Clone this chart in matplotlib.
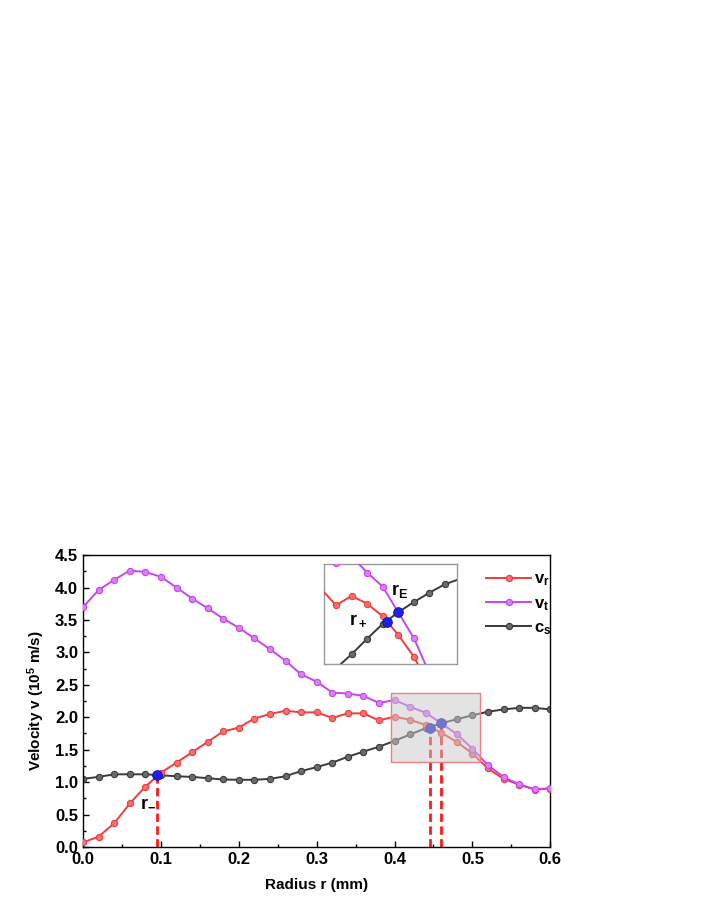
import matplotlib
matplotlib.use('Agg')
import matplotlib.pyplot as plt
from matplotlib.patches import Rectangle
from matplotlib.ticker import MultipleLocator

plt.rcParams['font.family'] = ['Liberation Sans', 'DejaVu Sans']
plt.rcParams['mathtext.default'] = 'regular'

# radius grid (mm)
r = [0.00, 0.02, 0.04, 0.06, 0.08, 0.10, 0.12, 0.14, 0.16, 0.18,
     0.20, 0.22, 0.24, 0.26, 0.28, 0.30, 0.32, 0.34, 0.36, 0.38,
     0.40, 0.42, 0.44, 0.46, 0.48, 0.50, 0.52, 0.54, 0.56, 0.58, 0.60]

# velocities (1e5 m/s)
v_r = [0.07, 0.16, 0.365, 0.67, 0.93, 1.145, 1.30, 1.46, 1.62, 1.78,
       1.84, 1.98, 2.05, 2.10, 2.075, 2.075, 1.99, 2.06, 2.06, 1.95,
       2.01, 1.96, 1.88, 1.76, 1.62, 1.44, 1.21, 1.05, 0.96, 0.885, 0.90]
v_t = [3.70, 3.96, 4.12, 4.26, 4.24, 4.165, 4.00, 3.83, 3.68, 3.52,
       3.38, 3.215, 3.05, 2.87, 2.66, 2.55, 2.38, 2.365, 2.33, 2.22,
       2.265, 2.16, 2.07, 1.905, 1.74, 1.515, 1.26, 1.08, 0.965, 0.89, 0.905]
c_s = [1.05, 1.08, 1.12, 1.12, 1.12, 1.105, 1.09, 1.08, 1.06, 1.04,
       1.035, 1.035, 1.05, 1.09, 1.17, 1.23, 1.30, 1.39, 1.47, 1.545,
       1.635, 1.735, 1.83, 1.905, 1.97, 2.03, 2.085, 2.12, 2.145, 2.145, 2.12]

# sonic points r-, r+, rE
cross_r = [0.0953, 0.445, 0.46]
cross_v = [1.105, 1.84, 1.905]

# zoomed region
box_x = (0.396, 0.510)
box_y = (1.305, 2.38)
inset_x = (0.365, 0.536)
inset_y = (1.573, 2.215)

red = '#f23b3b'
mag = '#c844ee'
blk = '#3a3a3a'
blue = '#1f1fe6'


def draw_curves(a, lw=1.4, ms=4.5):
    a.plot(r, c_s, '-o', color=blk, mfc='#6a6a6a', mec=blk, mew=0.8, lw=lw, ms=ms, label='c$_s$', zorder=2)
    a.plot(r, v_r, '-o', color=red, mfc='#f57070', mec=red, mew=0.8, lw=lw, ms=ms, label='v$_r$', zorder=3)
    a.plot(r, v_t, '-o', color=mag, mfc='#da80f4', mec=mag, mew=0.8, lw=lw, ms=ms, label='v$_t$', zorder=4)


fig = plt.figure(figsize=(7.1, 9.19), dpi=100)
ax = fig.add_axes([0.117, 0.0784, 0.658, 0.3176])

draw_curves(ax)
for x, y in zip(cross_r, cross_v):
    ax.plot([x, x], [0, y], '--', color='#ff1a1a', lw=2, dashes=(3, 1.6), zorder=1)
ax.plot(cross_r, cross_v, 'o', color=blue, ms=7, mec='#1010a0', mew=0.6, ls='none', zorder=5)

ax.add_patch(Rectangle((box_x[0], box_y[0]), box_x[1] - box_x[0], box_y[1] - box_y[0],
                       facecolor='#c8c8c8', alpha=0.5, edgecolor='none', zorder=6))
ax.add_patch(Rectangle((box_x[0], box_y[0]), box_x[1] - box_x[0], box_y[1] - box_y[0],
                       facecolor='none', edgecolor='#f08080', lw=1, zorder=7))

ax.text(0.084, 0.70, 'r$_{-}$', fontsize=13, fontweight='bold', ha='center', va='center')

ax.set_xlim(0, 0.6)
ax.set_ylim(0, 4.5)
ax.xaxis.set_major_locator(MultipleLocator(0.1))
ax.xaxis.set_minor_locator(MultipleLocator(0.05))
ax.yaxis.set_major_locator(MultipleLocator(0.5))
ax.yaxis.set_minor_locator(MultipleLocator(0.25))
ax.tick_params(which='both', direction='in', top=False, right=False)
ax.tick_params(which='major', length=4, width=1, labelsize=12)
ax.tick_params(which='minor', length=2.5, width=1)
for lab in ax.get_xticklabels() + ax.get_yticklabels():
    lab.set_fontweight('bold')
for s in ax.spines.values():
    s.set_linewidth(1)
ax.set_xlabel('Radius r (mm)', fontsize=11, fontweight='bold', labelpad=8)
ax.set_ylabel('Velocity v (10$^5$ m/s)', fontsize=11, fontweight='bold', labelpad=6)

h, l = ax.get_legend_handles_labels()
order = [1, 2, 0]
leg = ax.legend([h[i] for i in order], [l[i] for i in order], loc='upper left',
                bbox_to_anchor=(0.673, 0.387), bbox_transform=fig.transFigure,
                frameon=False, handlelength=2.7, handletextpad=0.2, labelspacing=0.45,
                borderpad=0, prop={'weight': 'bold', 'size': 12})

# inset
axi = fig.add_axes([0.4568, 0.2775, 0.1873, 0.1088])
draw_curves(axi)
axi.plot(cross_r[1:], cross_v[1:], 'o', color=blue, ms=7, mec='#1010a0', mew=0.6, ls='none', zorder=5)
axi.set_xlim(*inset_x)
axi.set_ylim(*inset_y)
axi.set_xticks([])
axi.set_yticks([])
for s in axi.spines.values():
    s.set_color('#9a9a9a')
    s.set_linewidth(1)
axi.text(0.462, 2.04, 'r$_E$', fontsize=13, fontweight='bold', ha='center', va='center')
axi.text(0.409, 1.86, 'r$_+$', fontsize=13, fontweight='bold', ha='center', va='center')

fig.savefig('out.png', dpi=100)
